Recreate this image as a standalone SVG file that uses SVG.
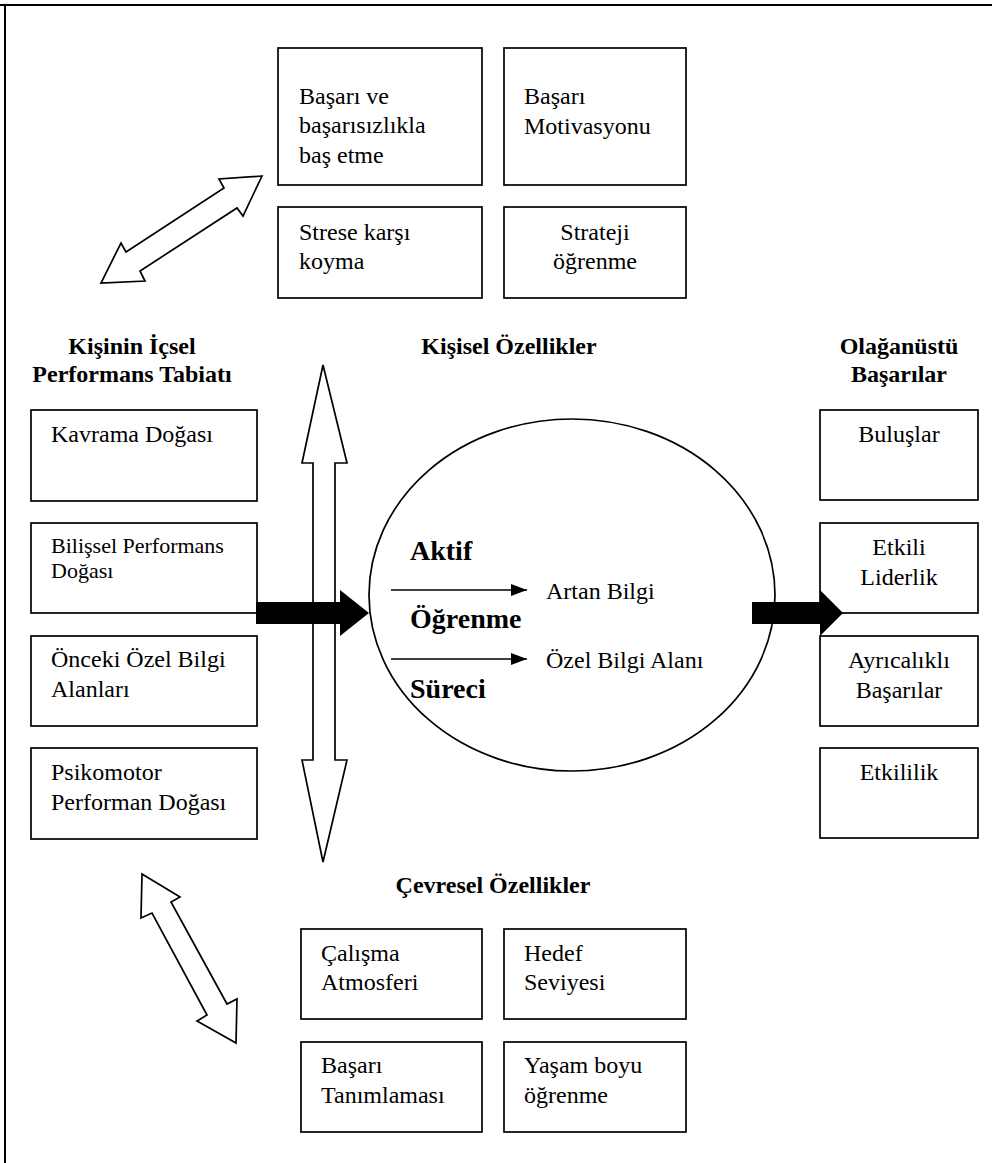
<svg xmlns="http://www.w3.org/2000/svg" width="992" height="1163" viewBox="0 0 992 1163">
<style>
.box{fill:#fff;stroke:#000;stroke-width:1.7}
.t{font-family:"Liberation Serif","Times New Roman",serif;font-size:24px;fill:#000}
.s{font-size:22px}
.b{font-weight:bold}
.big{font-size:28px;font-weight:bold}
.c{text-anchor:middle}
.hollow{fill:#fff;stroke:#000;stroke-width:1.7;stroke-linejoin:miter}
.solid{fill:#000;stroke:none}
.thin{stroke:#000;stroke-width:1.5;fill:none}
</style>
<defs>
<marker id="ah" markerUnits="userSpaceOnUse" markerWidth="16" markerHeight="12" refX="16" refY="6" orient="auto">
<polygon points="0,0 16,6 0,12" fill="#000"/>
</marker>
</defs>
<rect width="992" height="1163" fill="#fff"/>
<g id="frame">
<line x1="0" y1="5" x2="992" y2="5" stroke="#000" stroke-width="2"/>
<line x1="5" y1="5" x2="5" y2="1163" stroke="#000" stroke-width="2"/>
</g>

<g id="headings">
<text class="t b c" x="132" y="354">Kişinin İçsel</text>
<text class="t b c" x="132" y="382">Performans Tabiatı</text>
<text class="t b c" x="509" y="354">Kişisel Özellikler</text>
<text class="t b c" x="899" y="354">Olağanüstü</text>
<text class="t b c" x="899" y="382">Başarılar</text>
<text class="t b c" x="493" y="893">Çevresel Özellikler</text>
</g>

<g id="top-1"><rect class="box" x="278" y="48" width="204" height="137"/>
<text class="t" x="299" y="104">Başarı ve</text><text class="t" x="299" y="133">başarısızlıkla</text><text class="t" x="299" y="163">baş etme</text></g>
<g id="top-2"><rect class="box" x="504" y="48" width="182" height="137"/>
<text class="t" x="524" y="104">Başarı</text><text class="t" x="524" y="134">Motivasyonu</text></g>
<g id="top-3"><rect class="box" x="278" y="207" width="204" height="91"/>
<text class="t" x="299" y="240">Strese karşı</text><text class="t" x="299" y="269">koyma</text></g>
<g id="top-4"><rect class="box" x="504" y="207" width="182" height="91"/>
<text class="t c" x="595" y="240">Strateji</text><text class="t c" x="595" y="269">öğrenme</text></g>

<g id="left-1"><rect class="box" x="31" y="410" width="226" height="91"/>
<text class="t" x="51" y="442">Kavrama Doğası</text></g>
<g id="left-2"><rect class="box" x="31" y="523" width="226" height="90"/>
<text class="t s" x="51" y="553">Bilişsel Performans</text><text class="t s" x="51" y="578">Doğası</text></g>
<g id="left-3"><rect class="box" x="31" y="636" width="226" height="90"/>
<text class="t" x="51" y="667">Önceki Özel Bilgi</text><text class="t" x="51" y="697">Alanları</text></g>
<g id="left-4"><rect class="box" x="31" y="748" width="226" height="91"/>
<text class="t" x="51" y="780">Psikomotor</text><text class="t" x="51" y="810">Performan Doğası</text></g>

<g id="right-1"><rect class="box" x="820" y="410" width="158" height="90"/>
<text class="t c" x="899" y="442">Buluşlar</text></g>
<g id="right-2"><rect class="box" x="820" y="523" width="158" height="90"/>
<text class="t c" x="899" y="555">Etkili</text><text class="t c" x="899" y="585">Liderlik</text></g>
<g id="right-3"><rect class="box" x="820" y="636" width="158" height="90"/>
<text class="t c" x="899" y="668">Ayrıcalıklı</text><text class="t c" x="899" y="698">Başarılar</text></g>
<g id="right-4"><rect class="box" x="820" y="748" width="158" height="90"/>
<text class="t c" x="899" y="780">Etkililik</text></g>

<g id="bottom-1"><rect class="box" x="301" y="929" width="181" height="90"/>
<text class="t" x="321" y="961">Çalışma</text><text class="t" x="321" y="990">Atmosferi</text></g>
<g id="bottom-2"><rect class="box" x="504" y="929" width="182" height="90"/>
<text class="t" x="524" y="961">Hedef</text><text class="t" x="524" y="990">Seviyesi</text></g>
<g id="bottom-3"><rect class="box" x="301" y="1042" width="181" height="90"/>
<text class="t" x="321" y="1073">Başarı</text><text class="t" x="321" y="1103">Tanımlaması</text></g>
<g id="bottom-4"><rect class="box" x="504" y="1042" width="182" height="90"/>
<text class="t" x="524" y="1073">Yaşam boyu</text><text class="t" x="524" y="1103">öğrenme</text></g>

<g id="process">
<ellipse class="box" cx="572" cy="595" rx="203" ry="176" stroke-width="1.5"/>
<text class="t big" x="410" y="560">Aktif</text>
<text class="t big" x="410" y="628">Öğrenme</text>
<text class="t big" x="410" y="698">Süreci</text>
<text class="t" x="546" y="599">Artan Bilgi</text>
<text class="t" x="546" y="668">Özel Bilgi Alanı</text>
</g>

<g id="connectors">
<polygon class="hollow" points="262,176 219,179 224,188 126,252 121,243 101,283 145,281 140,271 237,208 243,216"/>
<polygon class="hollow" points="142,874 180,897 171,902 227,1004 237,999 236,1043 197,1021 207,1015 152,913 141,918"/>
<polygon class="hollow" points="323,365 347,463 335,463 335,760 347,760 323,862 302,760 313,760 313,463 302,463"/>
<polygon class="solid" points="256,602 340,602 340,590 369,613 340,636 340,624 256,624"/>
<polygon class="solid" points="752,602 820,602 820,590 843,613 820,636 820,624 752,624"/>
<line class="thin" x1="391" y1="590" x2="527" y2="590" marker-end="url(#ah)"/>
<line class="thin" x1="391" y1="659" x2="527" y2="659" marker-end="url(#ah)"/>
</g>
</svg>
